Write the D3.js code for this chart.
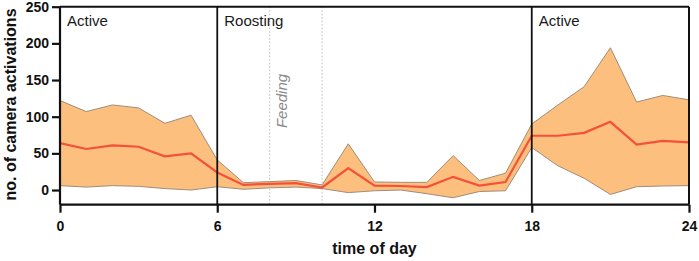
<!DOCTYPE html>
<html><head><meta charset="utf-8">
<script src="https://cdn.jsdelivr.net/npm/d3@7"></script>
<style>
html,body{margin:0;padding:0;background:#fff;}
svg{display:block;font-family:"Liberation Sans",Arial,sans-serif;}
</style></head>
<body><svg id="c" width="699" height="261"></svg>
<script>
const hours = [0,1,2,3,4,5,6,7,8,9,10,11,12,13,14,15,16,17,18,19,20,21,22,23,24];
const meanVals = [64,56,61,59,46,50,24,7,8.5,9.5,3.5,30,6,5.5,4,18,6,11,74,74,78,93,62,67,65];
const upperVals = [122,107,116,112,91,102,41,10,11.5,13,7,63,11,10.5,10.5,47,13,23,90,116,141,194,120,129,123];
const lowerVals = [6,4,6,5,2,0,4.5,1,3,4,2,-3.5,-1,0,-5,-10.5,-2,-1,58,33,16,-6,4.5,5.5,6];
const xTicks = [0,6,12,18,24];
const yTicks = [0,50,100,150,200,250];
const phaseLabels = [{t:"Active",h:0},{t:"Roosting",h:6},{t:"Active",h:18}];
const phaseBounds = [6,18];
const feedingBounds = [8,10];
const feedingLabel = "Feeding";

const svg = d3.select("#c");
const L=60,R=689,T=6.7,B=204.7;
const x = d3.scaleLinear().domain([0,24]).range([L,R]);
const y = d3.scaleLinear().domain([-20,250]).range([B,T]);

const data = hours.map((h,i)=>({h,m:meanVals[i],u:upperVals[i],l:lowerVals[i]}));

// band
svg.append("path").datum(data)
  .attr("d", d3.area().x(d=>x(d.h)).y0(d=>y(d.l)).y1(d=>y(d.u)))
  .attr("fill","#fdbf7e").attr("stroke","none");
svg.append("path").datum(data)
  .attr("d", d3.line().x(d=>x(d.h)).y(d=>y(d.u)))
  .attr("fill","none").attr("stroke","#a08c78").attr("stroke-width",1);
svg.append("path").datum(data)
  .attr("d", d3.line().x(d=>x(d.h)).y(d=>y(d.l)))
  .attr("fill","none").attr("stroke","#a08c78").attr("stroke-width",1);

// feeding dotted lines
feedingBounds.forEach(h=>{
  svg.append("line").attr("x1",x(h)).attr("x2",x(h)).attr("y1",T).attr("y2",B)
    .attr("stroke","#bbbbbb").attr("stroke-width",1).attr("stroke-dasharray","1.5,2");
});
// mean line
svg.append("path").datum(data)
  .attr("d", d3.line().x(d=>x(d.h)).y(d=>y(d.m)))
  .attr("fill","none").attr("stroke","#f5503a").attr("stroke-width",2.2);

// phase lines
phaseBounds.forEach(h=>{
  svg.append("line").attr("x1",x(h)).attr("x2",x(h)).attr("y1",T).attr("y2",B)
    .attr("stroke","#111").attr("stroke-width",1.8);
});
// frame top/right
svg.append("line").attr("x1",L).attr("x2",R).attr("y1",T).attr("y2",T).attr("stroke","#111").attr("stroke-width",2);
svg.append("line").attr("x1",R).attr("x2",R).attr("y1",T).attr("y2",B).attr("stroke","#111").attr("stroke-width",2);

// axes
const xa = svg.append("g").attr("transform",`translate(0,${B})`)
  .call(d3.axisBottom(x).tickValues(xTicks).tickSize(8).tickPadding(8).tickFormat(d3.format("d")));
const ya = svg.append("g").attr("transform",`translate(${L},0)`)
  .call(d3.axisLeft(y).tickValues(yTicks).tickSize(8).tickPadding(3).tickFormat(d3.format("d")));
[xa,ya].forEach(g=>{
  g.select(".domain").attr("stroke","#111").attr("stroke-width",2.2);
  g.selectAll(".tick line").attr("stroke","#111").attr("stroke-width",2.2);
  g.selectAll(".tick text").attr("fill","#111").attr("font-size",14).attr("font-weight","bold")
    .attr("font-family","'Liberation Sans',Arial,sans-serif");
});
ya.select(".domain").attr("d",`M0,${B}V${T}`);
xa.select(".domain").attr("d",`M${L},0H${R}`);

// phase labels
phaseLabels.forEach(p=>{
  svg.append("text").attr("x",x(p.h)+7).attr("y",26).text(p.t)
    .attr("font-size",15).attr("fill","#1a1a1a");
});
// feeding label
svg.append("text").attr("transform",`translate(287,101) rotate(-90)`)
  .attr("text-anchor","middle").attr("font-size",15).attr("font-style","italic")
  .attr("fill","#8a8a8a").text(feedingLabel);

// axis titles
svg.append("text").attr("x",(L+R)/2).attr("y",254).attr("text-anchor","middle")
  .attr("font-size",16).attr("font-weight","bold").attr("fill","#111").text("time of day");
svg.append("text").attr("transform",`translate(15.5,104.5) rotate(-90)`)
  .attr("text-anchor","middle").attr("font-size",16).attr("font-weight","bold").attr("fill","#111")
  .text("no. of camera activations");
</script></body></html>
